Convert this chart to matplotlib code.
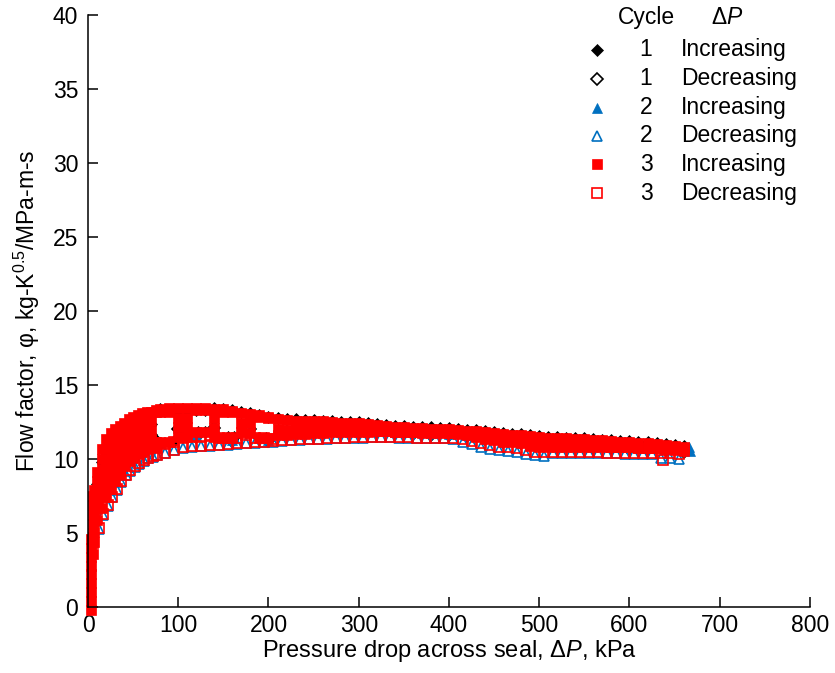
import matplotlib

matplotlib.use("Agg")
import matplotlib.pyplot as plt

plt.rcParams["font.family"] = ["Liberation Sans", "DejaVu Sans"]
plt.rcParams["mathtext.fontset"] = "custom"
plt.rcParams["mathtext.rm"] = "Liberation Sans"
plt.rcParams["mathtext.it"] = "Liberation Sans:italic"

BLUE = "#0070C0"
RED = "#FF0000"
BLACK = "#000000"

# pressure drop (kPa) at which the increasing rows were read
dp_grid = [10, 15, 20, 25, 30, 35, 40, 45, 50, 55, 60, 65, 70, 75, 80,
           90, 100, 110, 120, 130, 140, 150, 160, 170, 180, 190, 200,
           210, 220, 230, 240, 250, 260, 270, 280, 290, 300,
           310, 320, 330, 340, 350, 360, 370, 380, 390, 400,
           410, 420, 430, 440, 450, 460, 470, 480, 490, 500,
           510, 520, 530, 540, 550, 560, 570, 580, 590, 600,
           610, 620, 630, 640, 650, 660]

# pressure drop (kPa) for decreasing rows
dp_dec = [12, 17, 22, 27, 32, 37, 42, 47, 52, 57, 62, 67, 72, 77,
          85, 95, 105, 115, 125, 135, 145, 155, 165, 175, 185, 195, 205,
          215, 225, 235, 245, 255, 265, 275, 285, 295, 305,
          315, 325, 335, 345, 355, 365, 375, 385, 395, 405,
          415, 425, 435, 445, 455, 465, 475, 485, 495, 505,
          515, 525, 535, 545, 555, 565, 575, 585, 595, 605,
          615, 625, 635, 645, 655]

# coarser read for the mostly hidden series
dp_coarse = [10, 20, 30, 40, 50, 60, 70, 80,
             100, 120, 140, 160, 180, 200, 220, 240, 260, 280, 300,
             320, 340, 360, 380, 400, 420, 440, 460, 480, 500,
             520, 540, 560, 580, 600, 620, 640, 660]

# cycle 1, increasing
c1_inc_phi = [8.3, 9.8, 10.5, 10.9, 11.2, 11.4, 11.6, 11.85, 12.0, 12.15, 12.25, 12.3, 12.35, 11.3, 13.4,
              13.3, 13.3, 13.3, 13.3, 13.3, 13.45, 13.4, 13.3, 13.15, 13.1, 13.0, 12.85,
              12.75, 12.7, 12.67, 12.65, 12.62, 12.6, 12.56, 12.52, 12.5, 12.47,
              12.42, 12.38, 12.3, 12.23, 12.2, 12.17, 12.15, 12.13, 12.1, 12.08,
              12.02, 11.98, 11.94, 11.9, 11.82, 11.75, 11.7, 11.66, 11.6, 11.55,
              11.5, 11.48, 11.45, 11.42, 11.4, 11.35, 11.3, 11.25, 11.22, 11.2,
              11.17, 11.13, 11.08, 11.02, 10.95, 10.85]
c1_inc_step_dp = [95, 122, 130, 155, 162, 190, 197]
c1_inc_step_phi = [11.2, 11.85, 11.85, 11.5, 11.5, 11.45, 11.45]

# cycle 1, decreasing
c1_dec_phi = [6.9, 8.9, 9.8, 10.5, 11.0, 11.35, 11.6, 11.0,
              12.0, 11.5, 12.1, 11.2, 12.0, 11.2, 11.85, 11.85, 11.85, 11.85, 11.85,
              11.8, 11.75, 11.7, 11.65, 11.62, 11.55, 11.32, 11.17, 11.06, 10.88,
              10.84, 10.81, 10.77, 10.72, 10.69, 10.65, 10.58, 10.5]

# cycle 2, increasing
c2_inc_phi = [7.0, 9.0, 9.9, 10.6, 11.1, 11.45, 11.7, 11.1,
              12.1, 11.6, 12.2, 11.3, 12.1, 11.3, 11.95, 11.95, 11.95, 11.95, 11.95,
              11.9, 11.85, 11.8, 11.75, 11.72, 11.64, 11.42, 11.27, 11.16, 10.98,
              10.94, 10.91, 10.87, 10.82, 10.79, 10.75, 10.68, 10.6]
c2_inc_end_dp = [666, 667]
c2_inc_end_phi = [10.8, 10.55]

# cycle 2, decreasing
c2_dec_phi = [5.3, 6.2, 6.85, 7.4, 7.9, 8.45, 8.9, 9.2, 9.45, 9.65, 9.85, 10.05, 10.15, 10.25,
              10.38, 10.6, 10.75, 10.82, 10.87, 10.91, 10.93, 10.97, 11.02, 11.07, 11.11, 11.13, 11.17,
              11.22, 11.27, 11.3, 11.32, 11.35, 11.37, 11.4, 11.41, 11.43, 11.45,
              11.46, 11.47, 11.46, 11.45, 11.43, 11.41, 11.4, 11.4, 11.39, 11.38,
              11.18, 11.0, 10.82, 10.7, 10.6, 10.52, 10.45, 10.35, 10.25, 10.2,
              10.4, 10.4, 10.4, 10.4, 10.4, 10.4, 10.38, 10.38, 10.37, 10.37,
              10.37, 10.36, 10.1, 10.05, 10.0]

# cycle 3, increasing (upper, middle and lower rows of the band)
c3_inc_top = [9.15, 10.65, 11.35, 11.75, 12.05, 12.25, 12.45, 12.7, 12.85, 13.0, 13.1, 13.15, 13.2, 13.3, 13.35,
              13.45, 13.45, 13.45, 13.45, 13.45, 13.4, 13.35, 13.25, 13.1, 13.05, 12.95, 12.8,
              12.7, 12.65, 12.6, 12.6, 12.55, 12.55, 12.5, 12.45, 12.45, 12.4,
              12.35, 12.3, 12.25, 12.15, 12.15, 12.1, 12.1, 12.05, 12.05, 12.0,
              11.95, 11.9, 11.9, 11.85, 11.75, 11.7, 11.65, 11.6, 11.55, 11.5,
              11.45, 11.4, 11.4, 11.35, 11.35, 11.3, 11.25, 11.2, 11.15, 11.15,
              11.1, 11.05, 11.0, 10.95, 10.9, 10.8]
c3_inc_mid = [8.5, 10.0, 10.7, 11.1, 11.4, 11.6, 11.8, 12.05, 12.2, 12.35, 12.45, 12.5, 12.55, 13.2, 13.2,
              13.2, 12.8, 12.8, 13.3, 13.3, 12.75, 13.15, 13.15, 12.45, 12.4, 12.85, 12.85,
              12.0, 11.95, 12.0, 12.0, 11.98, 11.97, 11.98, 11.96, 11.96, 11.96,
              11.93, 11.92, 11.88, 11.84, 11.82, 11.8, 11.78, 11.76, 11.75, 11.73,
              11.7, 11.64, 11.52, 11.42, 11.34, 11.27, 11.21, 11.16, 11.05, 10.98,
              10.95, 10.94, 10.92, 10.91, 10.9, 10.87, 10.85, 10.82, 10.8, 10.79,
              10.77, 10.75, 10.72, 10.68, 10.63, 10.57]
c3_inc_low = [7.8, 9.3, 10.0, 10.45, 10.75, 10.95, 11.15, 11.4, 11.55, 11.7, 11.8, 11.85, 11.9, 11.15, 11.15,
              11.15, 12.15, 12.15, 11.8, 11.8, 12.1, 11.45, 11.45, 11.8, 11.75, 11.4, 11.4,
              11.6, 11.65, 11.7, 11.7, 11.75, 11.75, 11.8, 11.8, 11.82, 11.85,
              11.85, 11.87, 11.87, 11.85, 11.85, 11.82, 11.8, 11.8, 11.8, 11.78,
              11.78, 11.7, 11.5, 11.35, 11.25, 11.18, 11.12, 11.05, 10.9, 10.82,
              10.8, 10.8, 10.8, 10.8, 10.8, 10.8, 10.8, 10.78, 10.78, 10.78,
              10.77, 10.77, 10.75, 10.75, 10.72, 10.7]
c3_inc_riser_dp = [100, 110, 140]
c3_inc_riser_phi = [11.5, 11.5, 11.5]
c3_inc_fill_dp = [10, 10, 10, 15, 15, 15, 15, 20, 20, 20, 20, 25, 25, 25, 25,
                  30, 30, 30, 35, 35, 35, 40, 40, 40, 45, 45, 50, 50, 55, 55,
                  60, 60, 65, 65, 70, 70, 75]
c3_inc_fill_phi = [5.9, 6.6, 7.2, 6.7, 7.4, 8.1, 8.7, 7.4, 8.1, 8.8, 9.4, 8.0, 8.7, 9.4, 9.9,
                   8.5, 9.2, 9.9, 9.0, 9.7, 10.3, 9.5, 10.2, 10.6, 9.85, 10.5, 10.1, 10.8, 10.35, 11.0,
                   10.5, 11.1, 10.7, 11.2, 10.8, 11.3, 10.75]
c3_inc_start_dp = [3, 3, 3, 3, 3, 3, 3, 3, 3, 5, 5, 5, 5, 5, 5, 5, 7, 7, 7, 7, 7, 7]
c3_inc_start_phi = [-0.2, 0.4, 1.0, 1.6, 2.2, 2.8, 3.4, 4.0, 4.6,
                    3.6, 4.3, 5.0, 5.6, 6.2, 6.9, 7.5,
                    4.4, 5.1, 5.8, 6.5, 7.2, 7.9]

# cycle 3, decreasing
c3_dec_phi = [5.35, 6.25, 6.9, 7.45, 7.95, 8.5, 8.95, 9.25, 9.5, 9.7, 9.9, 10.1, 10.2, 10.3,
              10.4, 10.6, 10.8, 10.85, 10.9, 10.95, 10.97, 11.0, 11.05, 11.1, 11.15, 11.17, 11.2,
              11.25, 11.3, 11.33, 11.35, 11.38, 11.4, 11.43, 11.45, 11.47, 11.49,
              11.5, 11.5, 11.5, 11.49, 11.47, 11.45, 11.44, 11.44, 11.43, 11.42,
              11.38, 11.24, 11.06, 10.94, 10.84, 10.79, 10.72, 10.62, 10.5, 10.45,
              10.44, 10.44, 10.44, 10.44, 10.44, 10.44, 10.42, 10.42, 10.41, 10.41,
              10.41, 10.4, 10.38, 10.38, 10.35]
c3_dec_step_dp = [85, 95, 105, 115, 125, 135, 145, 155, 165, 175, 185, 195, 205, 637]
c3_dec_step_phi = [11.03, 11.15, 11.4, 11.47, 11.5, 11.56, 11.45, 11.45, 11.45, 11.6, 11.4, 11.4, 11.35, 9.93]

legend_cycles = ["1", "1", "2", "2", "3", "3"]
legend_dirs = ["Increasing", "Decreasing", "Increasing", "Decreasing", "Increasing", "Decreasing"]


def draw_series(ax, dp, phi, marker, color, filled, size, **kwargs):
    ax.plot(dp, phi, linestyle="none", marker=marker, markersize=size,
            markerfacecolor=color if filled else "none", markeredgecolor=color,
            markeredgewidth=0.5 if filled else 1.2, clip_on=False, **kwargs)


fig = plt.figure(figsize=(8.35, 6.73), dpi=100)
ax = fig.add_axes([0.1054, 0.0981, 0.8646, 0.8796])

styles = [("D", BLACK, True, 6.0), ("D", BLACK, False, 6.0),
          ("^", BLUE, True, 7.0), ("^", BLUE, False, 7.0),
          ("s", RED, True, 7.0), ("s", RED, False, 7.0)]

draw_series(ax, dp_grid + c1_inc_step_dp, c1_inc_phi + c1_inc_step_phi, *styles[0])
draw_series(ax, dp_coarse, c1_dec_phi, *styles[1])
draw_series(ax, dp_coarse + c2_inc_end_dp, c2_inc_phi + c2_inc_end_phi, *styles[2])
draw_series(ax, dp_dec, c2_dec_phi, *styles[3])
draw_series(ax,
            dp_grid * 3 + c3_inc_riser_dp + c3_inc_fill_dp + c3_inc_start_dp,
            c3_inc_top + c3_inc_mid + c3_inc_low + c3_inc_riser_phi + c3_inc_fill_phi + c3_inc_start_phi,
            *styles[4])
draw_series(ax, dp_dec + c3_dec_step_dp, c3_dec_phi + c3_dec_step_phi, *styles[5])

ax.set_xlim(0, 800)
ax.set_ylim(0, 40)
ax.set_xticks(range(0, 801, 100))
ax.set_yticks(range(0, 41, 5))
ax.spines["top"].set_visible(False)
ax.spines["right"].set_visible(False)
for side in ("left", "bottom"):
    ax.spines[side].set_linewidth(1.1)
ax.tick_params(direction="in", length=7, width=1.1, labelsize=16.5)
ax.tick_params(axis="x", pad=5)
ax.tick_params(axis="y", pad=7)
ax.set_xlabel("Pressure drop across seal, \u0394$P$, kPa", fontsize=17, labelpad=1)
ax.set_ylabel("Flow factor, \u03c6, kg-K$^{0.5}$/MPa-m-s", fontsize=16.5, labelpad=8)

# legend drawn as a small table: marker, cycle, direction of pressure change
ax.text(0.773, 0.995, "Cycle", transform=ax.transAxes, ha="center", va="center", fontsize=16.5)
ax.text(0.885, 0.995, "\u0394$P$", transform=ax.transAxes, ha="center", va="center", fontsize=16.5)
row_y = [0.941, 0.892, 0.843, 0.796, 0.748, 0.699]
for (marker, color, filled, size), cyc, direction, y in zip(styles, legend_cycles, legend_dirs, row_y):
    ax.plot([0.705], [y], transform=ax.transAxes, linestyle="none", marker=marker,
            markersize=size, markerfacecolor=color if filled else "white",
            markeredgecolor=color, markeredgewidth=0.5 if filled else 1.2, clip_on=False)
    ax.text(0.773, y, cyc, transform=ax.transAxes, ha="center", va="center", fontsize=16.5)
    ax.text(0.821, y, direction, transform=ax.transAxes, ha="left", va="center", fontsize=16.5)

fig.savefig("out.png", dpi=100)
